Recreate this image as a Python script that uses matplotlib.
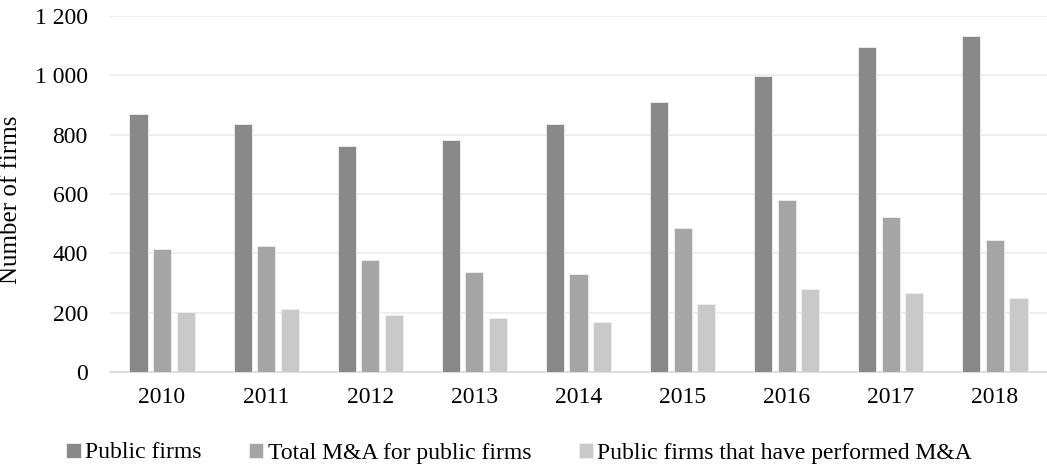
import matplotlib
matplotlib.use("Agg")
import matplotlib.pyplot as plt
import numpy as np

# number of firms per year
years = ['2010', '2011', '2012', '2013', '2014', '2015', '2016', '2017', '2018']
public_firms = [870, 835, 762, 782, 837, 909, 999, 1097, 1134]
total_ma = [416, 424, 379, 338, 330, 485, 580, 524, 446]
performed_ma = [203, 214, 191, 181, 167, 229, 281, 265, 248]

series_names = ['Public firms', 'Total M&A for public firms',
                'Public firms that have performed M&A']
colors = ['#898989', '#a5a5a5', '#c9c9c9']

plt.rcParams['font.family'] = ['Liberation Serif', 'DejaVu Serif']

fig = plt.figure(figsize=(10.47, 4.67), dpi=100)
ax = fig.add_axes([110 / 1047, 95 / 467, 1 - 110 / 1047, 356 / 467])

x = np.arange(len(years))
width = 0.174
step = 0.226
for i, (vals, name) in enumerate(zip([public_firms, total_ma, performed_ma], series_names)):
    ax.bar(x + (i - 1) * step, vals, width, color=colors[i], label=name,
           edgecolor='#f0f0f0', linewidth=0.6, zorder=3)

ax.set_xlim(-0.5, len(years) - 0.5)
ax.set_ylim(0, 1200)
ax.set_yticks(range(0, 1201, 200))
ax.set_yticklabels([f'{v:,}'.replace(',', ' ') for v in range(0, 1201, 200)])
ax.set_xticks(x)
ax.set_xticklabels(years)

ax.grid(axis='y', color='#ececec', linewidth=1.2, zorder=0)
for s in ['top', 'right', 'left']:
    ax.spines[s].set_visible(False)
ax.spines['bottom'].set_color('#d9d9d9')
ax.spines['bottom'].set_linewidth(1.2)
ax.tick_params(axis='both', length=0, labelsize=17, colors='#000000')
ax.tick_params(axis='x', pad=11)
ax.tick_params(axis='y', pad=16)

ax.set_ylabel('Number of firms', fontsize=18)
ax.yaxis.set_label_coords(-0.094, 0.483)

fig.legend(loc='center', bbox_to_anchor=(0.496, 14 / 467), ncol=3, frameon=False,
           fontsize=17, handlelength=0.6, handleheight=0.6, handletextpad=0.2,
           columnspacing=2.0, borderaxespad=0)

fig.savefig('out.png', dpi=100)
